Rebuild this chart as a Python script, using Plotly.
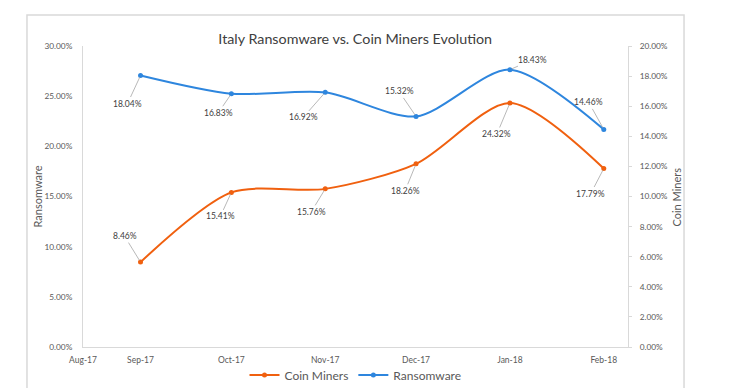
import plotly.graph_objects as go

months = ["2017-09-01", "2017-10-01", "2017-11-01", "2017-12-01", "2018-01-01", "2018-02-01"]
coin_miners = [0.0846, 0.1541, 0.1576, 0.1826, 0.2432, 0.1779]
ransomware = [0.1804, 0.1683, 0.1692, 0.1532, 0.1843, 0.1446]
x_tick_vals = ["2017-08-13", "2017-09-01", "2017-10-01", "2017-11-01", "2017-12-01", "2018-01-01", "2018-02-01"]
x_tick_text = ["Aug-17", "Sep-17", "Oct-17", "Nov-17", "Dec-17", "Jan-18", "Feb-18"]
left_ticks = [0, 0.05, 0.10, 0.15, 0.20, 0.25, 0.30]
right_ticks = [0, 0.02, 0.04, 0.06, 0.08, 0.10, 0.12, 0.14, 0.16, 0.18, 0.20]

# label offsets (pixels) for data labels
cm_offsets = [(-16, -26), (-11, 24), (-14, 23), (-11, 27), (-13, 31), (-13, 25)]
rw_offsets = [(-13, 28), (-13, 19), (-22, 25), (-17, -25), (23, -10), (-15, -27)]

ORANGE = "#F0600F"
BLUE = "#2E86DE"
FONT = "Lato"
TXT = "#595959"
TICK_SIZE = 8.3

fig = go.Figure()
fig.add_trace(go.Scatter(
    x=months, y=coin_miners, name="Coin Miners", mode="lines+markers",
    line=dict(color=ORANGE, width=2, shape="spline", smoothing=0.8),
    marker=dict(size=5, color=ORANGE), yaxis="y"))
fig.add_trace(go.Scatter(
    x=months, y=ransomware, name="Ransomware", mode="lines+markers",
    line=dict(color=BLUE, width=2, shape="spline", smoothing=0.8),
    marker=dict(size=5, color=BLUE), yaxis="y2"))

ann = []
for xv, yv, (dx, dy) in zip(months, coin_miners, cm_offsets):
    ann.append(dict(x=xv, y=yv, xref="x", yref="y", text=f"{yv*100:.2f}%",
                    showarrow=True, arrowhead=0, arrowwidth=0.8, arrowcolor="#A6A6A6",
                    ax=dx, ay=dy, standoff=2, font=dict(family=FONT, size=8.5, color="#404040")))
for xv, yv, (dx, dy) in zip(months, ransomware, rw_offsets):
    ann.append(dict(x=xv, y=yv, xref="x", yref="y2", text=f"{yv*100:.2f}%",
                    showarrow=True, arrowhead=0, arrowwidth=0.8, arrowcolor="#A6A6A6",
                    ax=dx, ay=dy, standoff=2, font=dict(family=FONT, size=8.5, color="#404040")))
# axis titles
ann.append(dict(text="Ransomware", xref="paper", yref="paper", x=-0.0844, y=0.5,
                textangle=-90, showarrow=False, xanchor="center", yanchor="middle",
                font=dict(family=FONT, size=11, color=TXT)))
ann.append(dict(text="Coin Miners", xref="paper", yref="paper", x=1.0899, y=0.5,
                textangle=-90, showarrow=False, xanchor="center", yanchor="middle",
                font=dict(family=FONT, size=11, color=TXT)))

fig.update_layout(
    width=740, height=388,
    margin=dict(l=83, r=112, t=46, b=41),
    paper_bgcolor="white", plot_bgcolor="white",
    font=dict(family=FONT, color=TXT),
    title=dict(text="Italy Ransomware vs. Coin Miners Evolution", x=0.48, xanchor="center",
               y=0.9, yanchor="middle", font=dict(family=FONT, size=14.3, color="#404040")),
    xaxis=dict(type="date", range=["2017-08-13", "2018-02-09"], tickvals=x_tick_vals,
               ticktext=x_tick_text, showgrid=False, showline=True, linecolor="#D9D9D9",
               linewidth=1, ticks="", tickfont=dict(size=8.5, color=TXT), automargin=False,
               zeroline=False, ticklabelstandoff=5),
    yaxis=dict(range=[0, 0.30], tickvals=left_ticks, tickformat=".2%", showgrid=False,
               showline=True, linecolor="#D9D9D9", ticks="", zeroline=False,
               tickfont=dict(size=TICK_SIZE, color=TXT), automargin=False, ticklabelstandoff=8),
    yaxis2=dict(range=[0, 0.20], tickvals=right_ticks, tickformat=".2%", overlaying="y",
                side="right", showgrid=False, showline=True, linecolor="#D9D9D9",
                ticks="outside", ticklen=3, tickcolor="#D9D9D9", zeroline=False,
                tickfont=dict(size=TICK_SIZE, color=TXT), automargin=False, ticklabelstandoff=6),
    legend=dict(orientation="h", xref="paper", x=0.5, xanchor="center",
                yref="container", y=1 - 375 / 388, yanchor="middle",
                font=dict(size=12, color=TXT), bgcolor="rgba(0,0,0,0)", itemwidth=30),
    annotations=ann,
    shapes=[dict(type="rect", xref="paper", yref="paper", x0=-0.1028, x1=1.1028,
                 y0=-0.2, y1=1.103, line=dict(color="#D9D9D9", width=1.5), layer="below")],
)

fig.write_html("out.html", config={"displayModeBar": False},
               post_script="document.body.style.margin='0';document.body.style.overflow='hidden';")
